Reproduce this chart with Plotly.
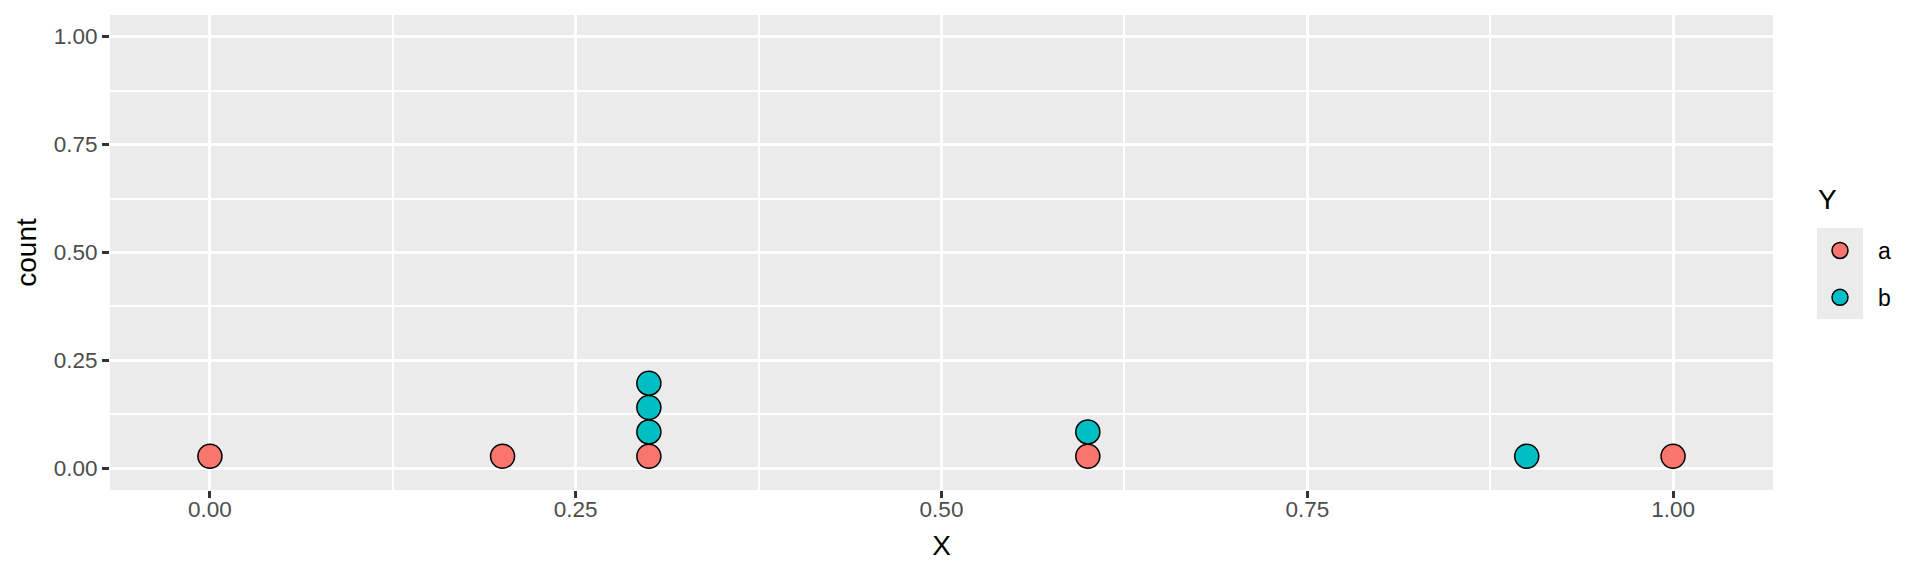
import plotly.graph_objects as go

# Data (dot plot: one dot per observation)
x_values = [0.0, 0.2, 0.3, 0.3, 0.3, 0.3, 0.6, 0.6, 0.9, 1.0]
y_groups = ["a", "a", "a", "b", "b", "b", "a", "b", "b", "a"]
groups = ["a", "b"]
colors = {"a": "#F8766D", "b": "#00BFC4"}
x_ticks = [0.0, 0.25, 0.5, 0.75, 1.0]
x_ticklabels = ["0.00", "0.25", "0.50", "0.75", "1.00"]
y_ticks = [0.0, 0.25, 0.5, 0.75, 1.0]
y_ticklabels = ["0.00", "0.25", "0.50", "0.75", "1.00"]
legend_title = "Y"

DOT_STEP = 0.0564  # stacking step in y units (dot diameter)

# stack dots per bin (group a first, then b)
order = sorted(range(len(x_values)), key=lambda i: (x_values[i], groups.index(y_groups[i])))
counts = {}
stack_y = [0.0] * len(x_values)
for i in order:
    k = counts.get(x_values[i], 0)
    stack_y[i] = (k + 0.5) * DOT_STEP
    counts[x_values[i]] = k + 1

FONT = "Liberation Sans, Arial, sans-serif"
fig = go.Figure()
for gi, g in enumerate(groups):
    xs = [x_values[i] for i in range(len(x_values)) if y_groups[i] == g]
    ys = [stack_y[i] for i in range(len(x_values)) if y_groups[i] == g]
    fig.add_trace(go.Scatter(
        x=xs, y=ys, mode="markers", name=g, legendgroup=g,
        marker=dict(size=24, color=colors[g], line=dict(color="black", width=1.5)),
    ))

W, H = 1920, 576
ml, mr, mt, mb = 110, 147, 15, 86
pw, ph = W - ml - mr, H - mt - mb

def px2paper(px, py):
    return (px - ml) / pw, (H - mb - py) / ph

x0, y0 = px2paper(1817, 319)
x1, y1 = px2paper(1863, 228)
tx, ty = px2paper(1816, 199)

fig.update_layout(
    width=W, height=H,
    margin=dict(l=ml, r=mr, t=mt, b=mb),
    paper_bgcolor="white",
    plot_bgcolor="#EBEBEB",
    font=dict(family=FONT, color="black"),
    showlegend=True,
    legend=dict(
        font=dict(size=23, color="black"),
        xref="container", yref="container",
        x=1802 / W, xanchor="left",
        y=1 - 229 / H, yanchor="top",
        bgcolor="rgba(0,0,0,0)",
        tracegroupgap=14,
        itemsizing="trace",
        itemwidth=66,
    ),
    shapes=[dict(type="rect", xref="paper", yref="paper", x0=x0, x1=x1, y0=y0, y1=y1,
                 fillcolor="#EBEBEB", line=dict(width=0), layer="below")],
    annotations=[dict(text=legend_title, xref="paper", yref="paper", x=tx, y=ty,
                      xanchor="left", yanchor="middle", showarrow=False,
                      font=dict(size=28, color="black", family=FONT))],
)

fig.update_xaxes(
    range=[-0.0683, 1.0683],
    tickvals=x_ticks, ticktext=x_ticklabels,
    showgrid=True, gridcolor="white", gridwidth=3.3,
    minor=dict(showgrid=True, gridcolor="white", gridwidth=1.7, tickvals=[0.125, 0.375, 0.625, 0.875]),
    zeroline=False, showline=False,
    ticks="outside", ticklen=7, tickwidth=2.5, tickcolor="#333333",
    tickfont=dict(size=22.5, color="#4D4D4D", family=FONT),
    ticklabelstandoff=-8,
    title=dict(text="X", font=dict(size=28, color="black"), standoff=14),
)
fig.update_yaxes(
    range=[-0.05, 1.05],
    tickvals=y_ticks, ticktext=y_ticklabels,
    showgrid=True, gridcolor="white", gridwidth=3.3,
    minor=dict(showgrid=True, gridcolor="white", gridwidth=1.7, tickvals=[0.125, 0.375, 0.625, 0.875]),
    zeroline=False, showline=False,
    ticks="outside", ticklen=7, tickwidth=2.5, tickcolor="#333333",
    tickfont=dict(size=22.5, color="#4D4D4D", family=FONT),
    ticklabelstandoff=0,
    title=dict(text="count", font=dict(size=28, color="black"), standoff=8),
)

fig.write_html("out.html", post_script="document.body.style.margin='0';",
               config={"displayModeBar": False})
